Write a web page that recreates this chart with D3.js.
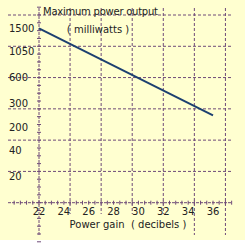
<!DOCTYPE html>
<html>
<head>
<meta charset="utf-8">
<script src="https://cdn.jsdelivr.net/npm/d3@7"></script>
<style>
  body { margin: 0; background: #fff; }
  text { font-family: "DejaVu Sans", sans-serif; fill: #222; }
</style>
</head>
<body>
<div id="chart"></div>
<script>
// Data
const gainTicks = [22, 24, 26, 28, 30, 32, 34, 36];
const powerTicks = [1500, 1050, 600, 300, 200, 40, 20];
const gain = [22, 36];
const power = [1500, 250];

const W = 245, H = 245;
const svg = d3.select('#chart').append('svg')
    .attr('width', W)
    .attr('height', H);

svg.append('rect')
    .attr('width', W)
    .attr('height', 240)
    .attr('fill', '#ffffd0');

// x: linear, y: piecewise (the printed labels are not evenly spaced)
const x = d3.scaleLinear().domain([22, 36]).range([39, 213]);
const y = d3.scaleLinear()
    .domain([20, 40, 200, 300, 600, 1050, 1500])
    .range([176.7, 150.7, 127.3, 103.3, 77.3, 51.7, 28.3]);
// grid rows are evenly spaced
const row = d3.scaleLinear().domain([0, 6]).range([202.7, 15]);

const gridColor = '#6e4a78';
const grid = svg.append('g')
    .attr('stroke', gridColor)
    .attr('stroke-width', 1)
    .attr('stroke-dasharray', '3,2');

grid.selectAll('.hgrid')
    .data(d3.range(1, 7))
    .join('line')
    .attr('class', 'hgrid')
    .attr('x1', 8).attr('x2', 232)
    .attr('y1', d => row(d)).attr('y2', d => row(d));

const vgrid = d3.range(24.5, 37.1, 2.5);
grid.selectAll('.vgrid')
    .data(vgrid)
    .join('line')
    .attr('class', 'vgrid')
    .attr('x1', d => x(d)).attr('x2', d => x(d))
    .attr('y1', 8)
    .attr('y2', d => d > 34 ? 235 : 214);

// axes
const axes = svg.append('g')
    .attr('stroke', gridColor)
    .attr('stroke-width', 1);

axes.append('line')
    .attr('x1', 8).attr('x2', 232)
    .attr('y1', row(0)).attr('y2', row(0))
    .attr('stroke-dasharray', '3,1');
axes.append('line')
    .attr('x1', x(22)).attr('x2', x(22))
    .attr('y1', 8).attr('y2', 235)
    .attr('stroke-dasharray', '3,1');

axes.selectAll('.xminor')
    .data(d3.range(20, 37.6, 0.5))
    .join('line')
    .attr('class', 'xminor')
    .attr('x1', d => x(d)).attr('x2', d => x(d))
    .attr('y1', row(0) - 2).attr('y2', row(0) + 2);

axes.selectAll('.yminor')
    .data(d3.range(-1.25, 6.3, 0.25))
    .join('line')
    .attr('class', 'yminor')
    .attr('x1', x(22) - 2).attr('x2', x(22) + 2)
    .attr('y1', d => row(d)).attr('y2', d => row(d));

// the line
svg.append('path')
    .datum(gain.map((g, i) => [g, power[i]]))
    .attr('fill', 'none')
    .attr('stroke', '#1c3f70')
    .attr('stroke-width', 2)
    .attr('d', d3.line().x(d => x(d[0])).y(d => y(d[1])));

// tick labels
svg.selectAll('.ylab')
    .data(powerTicks)
    .join('text')
    .attr('class', 'ylab')
    .attr('x', 9)
    .attr('y', d => y(d))
    .attr('dy', '0.36em')
    .style('font-size', '10px')
    .text(d => d);

svg.selectAll('.xlab')
    .data(gainTicks)
    .join('text')
    .attr('class', 'xlab')
    .attr('x', d => x(d))
    .attr('y', 211)
    .attr('dy', '0.36em')
    .attr('text-anchor', 'middle')
    .style('font-size', '10px')
    .text(d => d);

// titles
svg.append('text')
    .attr('x', 43).attr('y', 15)
    .attr('textLength', 115)
    .style('font-size', '10px')
    .text('Maximum power output');

svg.append('text')
    .attr('x', 98).attr('y', 33)
    .attr('text-anchor', 'middle')
    .style('font-size', '10px')
    .text('( milliwatts )');

svg.append('text')
    .attr('x', 128).attr('y', 228)
    .attr('text-anchor', 'middle')
    .attr('xml:space', 'preserve')
    .style('font-size', '10px')
    .text('Power gain  ( decibels )');
</script>
</body>
</html>
